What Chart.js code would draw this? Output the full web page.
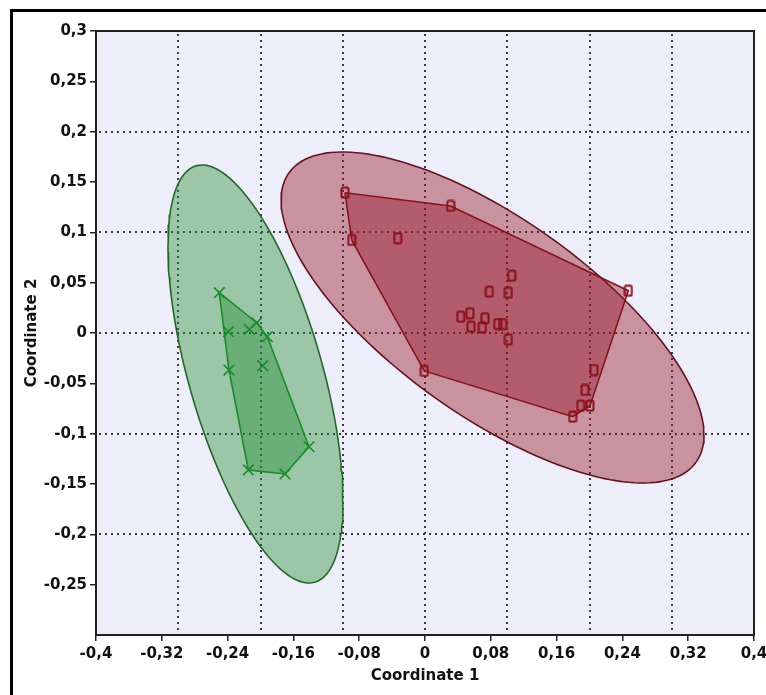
<!DOCTYPE html>
<html>
<head>
<meta charset="utf-8">
<script src="https://cdn.jsdelivr.net/npm/chart.js@4/dist/chart.umd.min.js"></script>
<style>
  html, body { margin: 0; padding: 0; background: #fff; overflow: hidden; }
  #wrap { position: relative; width: 766px; height: 695px; }
  #frame { position: absolute; left: 10px; top: 9px; width: 820px; height: 820px;
           border: 3px solid #000; box-sizing: border-box; }
  #c { position: absolute; left: 0; top: 0; }
</style>
</head>
<body>
<div id="wrap">
  <div id="frame"></div>
  <canvas id="c" width="766" height="695"></canvas>
</div>
<script>
// Group 1 (crosses)
const group1X = [-0.2501, -0.2391, -0.2136, -0.2046, -0.1917, -0.2383, -0.1973, -0.1410, -0.2148, -0.1702];
const group1Y = [0.0400, 0.0013, 0.0037, 0.0102, -0.0037, -0.0368, -0.0325, -0.1130, -0.1360, -0.1400];

// Group 2 (squares)
const group2X = [-0.0973, 0.0312, -0.0891, -0.0332, 0.1054, 0.0782, 0.1013, 0.2472, 0.0434, 0.0547, 0.0559,
                 0.0729, 0.0697, 0.0884, 0.0945, 0.1013, -0.0009, 0.2055, 0.1945, 0.1893, 0.2006, 0.1796];
const group2Y = [0.1394, 0.1262, 0.0924, 0.0941, 0.0569, 0.0410, 0.0400, 0.0420, 0.0162, 0.0196, 0.0063,
                 0.0146, 0.0057, 0.0089, 0.0089, -0.0063, -0.0377, -0.0368, -0.0566, -0.0722, -0.0722, -0.0831];

// 95% ellipses: [centre x, centre y, half-width x, half-height y, correlation]
const group1Ellipse = [-0.2061, -0.0407, 0.1064, 0.2076, -0.61];
const group2Ellipse = [0.0821, 0.0154, 0.2571, 0.1644, -0.71];

// Axis ticks and grid positions
const xTickValues = [-0.4, -0.32, -0.24, -0.16, -0.08, 0, 0.08, 0.16, 0.24, 0.32, 0.4];
const yTickValues = [-0.25, -0.2, -0.15, -0.1, -0.05, 0, 0.05, 0.1, 0.15, 0.2, 0.25, 0.3];
const xGridValues = [-0.3, -0.2, -0.1, 0, 0.1, 0.2, 0.3];
const yGridValues = [-0.2, -0.1, 0, 0.1, 0.2];

const toPoints = (xs, ys) => xs.map((x, i) => ({ x: x, y: ys[i] }));

// Convex hull (monotone chain), closed back to the first vertex
function convexHull(pts) {
  const p = pts.slice().sort((a, b) => a.x - b.x || a.y - b.y);
  const cross = (o, a, b) => (a.x - o.x) * (b.y - o.y) - (a.y - o.y) * (b.x - o.x);
  const lower = [], upper = [];
  for (const q of p) {
    while (lower.length >= 2 && cross(lower[lower.length - 2], lower[lower.length - 1], q) <= 0) lower.pop();
    lower.push(q);
  }
  for (let i = p.length - 1; i >= 0; i--) {
    const q = p[i];
    while (upper.length >= 2 && cross(upper[upper.length - 2], upper[upper.length - 1], q) <= 0) upper.pop();
    upper.push(q);
  }
  upper.pop(); lower.pop();
  const hull = lower.concat(upper);
  hull.push(hull[0]);
  return hull;
}

// Outline of an ellipse given by centre, half extents and correlation
function ellipseOutline(e) {
  const [cx, cy, sx, sy, r] = e;
  const k = Math.sqrt(1 - r * r);
  const out = [];
  for (let i = 0; i <= 180; i++) {
    const t = (i / 180) * 2 * Math.PI;
    out.push({ x: cx + sx * Math.cos(t), y: cy + sy * (r * Math.cos(t) + k * Math.sin(t)) });
  }
  return out;
}

// Open rounded-rectangle marker
const squareMarker = (() => {
  const cv = document.createElement('canvas');
  cv.width = 10; cv.height = 13;
  const g = cv.getContext('2d');
  g.strokeStyle = '#8a0f18';
  g.lineWidth = 2;
  g.beginPath();
  if (g.roundRect) g.roundRect(1.5, 1.5, 7, 10, 1.5); else g.rect(1.5, 1.5, 7, 10);
  g.stroke();
  return cv;
})();

const g1 = toPoints(group1X, group1Y);
const g2 = toPoints(group2X, group2Y);

const fmt = v => {
  const s = String(Number(v.toFixed(2)));
  return s.replace('.', ',');
};

const tickFont = { family: 'DejaVu Sans', weight: 'bold', size: 15 };

const plotDecor = {
  id: 'plotDecor',
  beforeDatasetsDraw(chart) {
    const { ctx, chartArea: a, scales: { x, y } } = chart;
    ctx.save();
    ctx.fillStyle = '#eeeefa';
    ctx.fillRect(a.left, a.top, a.right - a.left, a.bottom - a.top);
    ctx.strokeStyle = '#3c3c48';
    ctx.lineWidth = 2;
    ctx.setLineDash([2, 4]);
    xGridValues.forEach(v => {
      const px = Math.round(x.getPixelForValue(v));
      ctx.beginPath(); ctx.moveTo(px, a.top + 3); ctx.lineTo(px, a.bottom); ctx.stroke();
    });
    yGridValues.forEach(v => {
      const py = Math.round(y.getPixelForValue(v));
      ctx.beginPath(); ctx.moveTo(a.left + 3, py); ctx.lineTo(a.right, py); ctx.stroke();
    });
    ctx.restore();
  },
  afterDatasetsDraw(chart) {
    const { ctx, chartArea: a } = chart;
    ctx.save();
    ctx.strokeStyle = '#222';
    ctx.lineWidth = 2;
    ctx.strokeRect(a.left, a.top, a.right - a.left, a.bottom - a.top);
    ctx.restore();
  }
};

new Chart(document.getElementById('c'), {
  type: 'scatter',
  data: {
    datasets: [
      { label: 'Group 1 ellipse', data: ellipseOutline(group1Ellipse), showLine: true, tension: 0,
        pointRadius: 0, borderColor: '#25662a', borderWidth: 1.6,
        backgroundColor: 'rgba(30,140,45,0.40)', fill: 'shape', order: 4 },
      { label: 'Group 2 ellipse', data: ellipseOutline(group2Ellipse), showLine: true, tension: 0,
        pointRadius: 0, borderColor: '#64141f', borderWidth: 1.6,
        backgroundColor: 'rgba(150,20,38,0.42)', fill: 'shape', order: 4 },
      { label: 'Group 1 hull', data: convexHull(g1), showLine: true, tension: 0,
        pointRadius: 0, borderColor: '#1b8a2c', borderWidth: 1.6,
        backgroundColor: 'rgba(30,140,45,0.40)', fill: 'shape', order: 3 },
      { label: 'Group 2 hull', data: convexHull(g2), showLine: true, tension: 0,
        pointRadius: 0, borderColor: '#86141d', borderWidth: 1.6,
        backgroundColor: 'rgba(150,20,38,0.42)', fill: 'shape', order: 3 },
      { label: 'Group 1', data: g1, pointStyle: 'crossRot', pointRadius: 7.5,
        borderColor: '#1b8a2c', borderWidth: 1.6, order: 1 },
      { label: 'Group 2', data: g2, pointStyle: squareMarker, pointRadius: 5, order: 1 }
    ]
  },
  options: {
    responsive: false,
    animation: false,
    events: [],
    layout: { padding: { top: 31, right: 12, bottom: 0, left: 0 } },
    plugins: {
      legend: { display: false },
      tooltip: { enabled: false },
      filler: { drawTime: 'beforeDatasetDraw' }
    },
    scales: {
      x: {
        type: 'linear', min: -0.4, max: 0.4,
        afterBuildTicks: s => { s.ticks = xTickValues.map(v => ({ value: v })); },
        afterFit: s => { s.height = 60; s.paddingLeft = 0; s.paddingRight = 0; },
        ticks: { font: tickFont, color: '#111', padding: 4, maxRotation: 0, autoSkip: false,
                 callback: v => fmt(v) },
        grid: { drawOnChartArea: false, drawTicks: true, tickLength: 6, color: '#222', lineWidth: 1.5 },
        border: { display: false },
        title: { display: true, text: 'Coordinate 1', font: tickFont, color: '#111',
                 padding: { top: 0, bottom: 10 } }
      },
      y: {
        type: 'linear', min: -0.3, max: 0.3,
        afterBuildTicks: s => { s.ticks = yTickValues.map(v => ({ value: v })); },
        afterFit: s => { s.width = 96; s.paddingTop = 0; s.paddingBottom = 0; },
        ticks: { font: tickFont, color: '#111', padding: 3, autoSkip: false,
                 callback: v => fmt(v) },
        grid: { drawOnChartArea: false, drawTicks: true, tickLength: 6, color: '#222', lineWidth: 1.5 },
        border: { display: false },
        title: { display: true, text: 'Coordinate 2', font: tickFont, color: '#111',
                 padding: { top: 23, bottom: 0 } }
      }
    }
  },
  plugins: [plotDecor]
});
</script>
</body>
</html>
